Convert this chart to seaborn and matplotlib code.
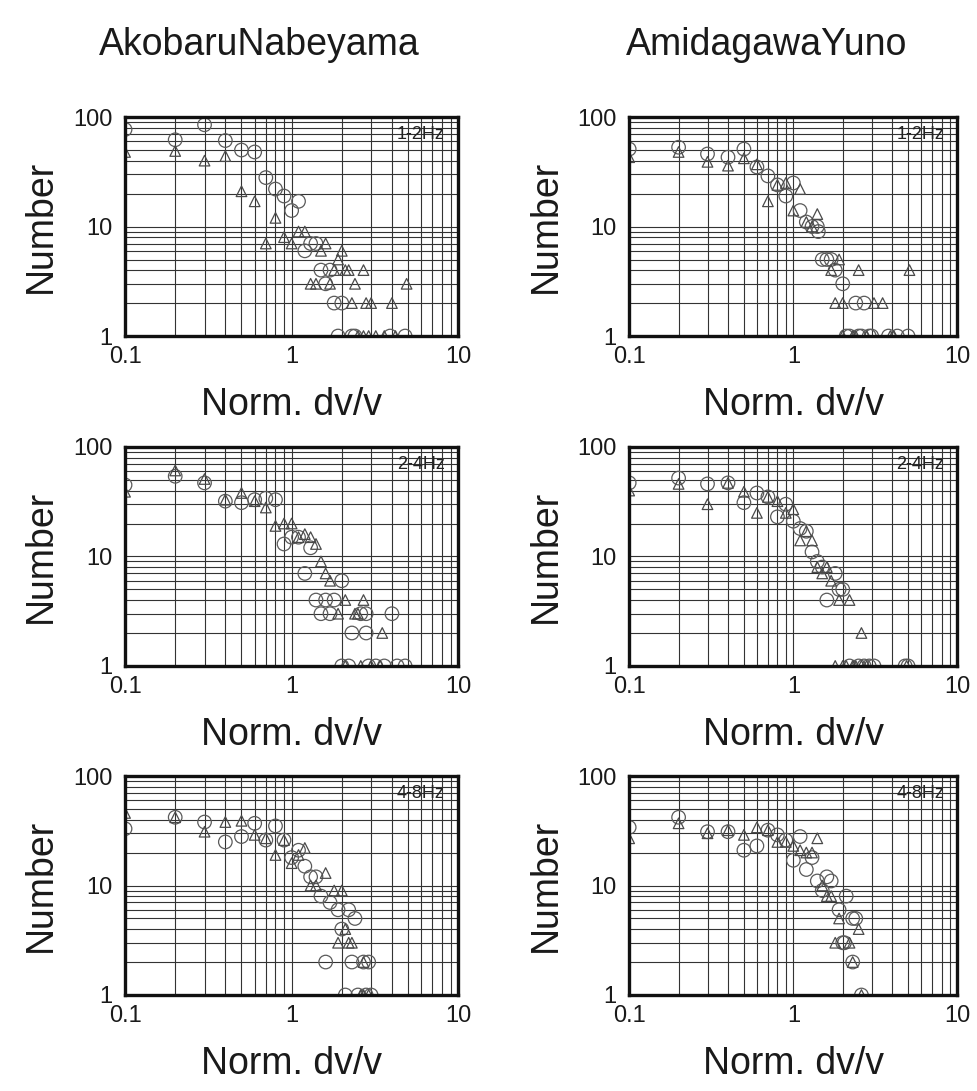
import seaborn as sns
import matplotlib.pyplot as plt

sns.set_style("white")
plt.rcParams['font.family'] = ['Liberation Sans', 'DejaVu Sans']

stations = ['AkobaruNabeyama', 'AmidagawaYuno']
bands = ['1-2Hz', '2-4Hz', '4-8Hz']
xticks = [0.1, 1, 10]
xticklabels = ['0.1', '1', '10']
yticks = [1, 10, 100]
yticklabels = ['1', '10', '100']

# AkobaruNabeyama 1-2Hz
an12_o_x = [0.1, 0.2, 0.3, 0.4, 0.5, 0.6, 0.7, 0.8, 0.9, 1.0, 1.1, 1.2, 1.3, 1.4, 1.5, 1.6, 1.7, 1.8, 2.0,
            1.9, 2.3, 2.4, 3.9, 4.8]
an12_o_y = [77, 62, 85, 61, 50, 48, 28, 22, 19, 14, 17, 6, 7, 7, 4, 3, 4, 2, 2,
            1, 1, 1, 1, 1]
an12_t_x = [0.1, 0.2, 0.3, 0.4, 0.5, 0.6, 0.7, 0.8, 0.9, 1.0, 1.1, 1.2, 1.3, 1.4, 1.5, 1.6, 1.7, 1.8, 1.9,
            2.0, 2.1, 2.2, 2.3, 2.4, 2.7, 2.8, 3.0, 4.0, 4.9, 2.5, 2.7, 2.9, 3.2, 3.6, 4.2]
an12_t_y = [48, 49, 40, 44, 21, 17, 7, 12, 8, 7, 9, 9, 3, 3, 6, 7, 3, 4, 5,
            6, 4, 4, 2, 3, 4, 2, 2, 2, 3, 1, 1, 1, 1, 1, 1]

# AmidagawaYuno 1-2Hz
ay12_o_x = [0.1, 0.2, 0.3, 0.4, 0.5, 0.6, 0.7, 0.8, 0.9, 1.0, 1.1, 1.2, 1.3, 1.4, 1.42, 1.5, 1.6, 1.7, 1.8,
            2.0, 2.4, 2.7, 2.1, 2.2, 2.5, 2.6, 2.9, 3.0, 3.8, 4.3, 5.0]
ay12_o_y = [51, 53, 46, 43, 51, 35, 29, 24, 19, 25, 14, 11, 10, 10, 9, 5, 5, 5, 4,
            3, 2, 2, 1, 1, 1, 1, 1, 1, 1, 1, 1]
ay12_t_x = [0.1, 0.2, 0.3, 0.4, 0.5, 0.6, 0.7, 0.8, 0.9, 1.0, 1.1, 1.2, 1.3, 1.4, 1.7, 1.9, 1.8, 2.0,
            2.5, 3.1, 3.5, 5.1, 2.0, 2.3, 2.4, 2.8, 3.9, 4.1]
ay12_t_y = [43, 48, 39, 36, 42, 37, 17, 24, 25, 14, 22, 11, 10, 13, 4, 5, 2, 2,
            4, 2, 2, 4, 1, 1, 1, 1, 1, 1]

# AkobaruNabeyama 2-4Hz
an24_o_x = [0.1, 0.2, 0.3, 0.4, 0.5, 0.6, 0.7, 0.8, 0.9, 1.0, 1.1, 1.2, 1.3, 1.4, 1.5, 1.6, 1.7, 1.8, 2.0,
            2.3, 2.6, 2.8, 2.8, 4.0, 2.0, 2.2, 2.9, 3.2, 3.6, 4.3, 4.8]
an24_o_y = [45, 54, 47, 32, 31, 33, 34, 33, 13, 15, 15, 7, 12, 4, 3, 4, 3, 4, 6,
            2, 3, 3, 2, 3, 1, 1, 1, 1, 1, 1, 1]
an24_t_x = [0.1, 0.2, 0.3, 0.4, 0.5, 0.6, 0.7, 0.8, 0.9, 1.0, 1.1, 1.2, 1.3, 1.4, 1.5, 1.6, 1.7, 1.9,
            2.1, 2.4, 2.5, 2.7, 3.5, 2.1, 2.6, 3.0, 3.4]
an24_t_y = [39, 61, 51, 33, 38, 32, 28, 19, 20, 20, 15, 16, 15, 13, 9, 7, 6, 3,
            4, 3, 3, 4, 2, 1, 1, 1, 1]

# AmidagawaYuno 2-4Hz
ay24_o_x = [0.1, 0.2, 0.3, 0.4, 0.5, 0.6, 0.7, 0.8, 0.9, 1.0, 1.1, 1.2, 1.3, 1.4, 1.5, 1.6, 1.8, 1.9, 2.0,
            2.2, 2.5, 2.7, 2.9, 3.1, 4.8, 5.0]
ay24_o_y = [47, 52, 46, 47, 31, 38, 35, 23, 30, 21, 18, 17, 11, 9, 8, 4, 7, 5, 5,
            1, 1, 1, 1, 1, 1, 1]
ay24_t_x = [0.1, 0.2, 0.3, 0.4, 0.5, 0.6, 0.7, 0.8, 0.9, 1.0, 1.1, 1.2, 1.3, 1.4, 1.5, 1.6, 1.7, 1.9,
            2.2, 2.6, 1.8, 2.0, 2.1, 2.3, 2.4, 2.6, 2.8, 4.9]
ay24_t_y = [40, 46, 30, 47, 39, 25, 35, 32, 25, 27, 14, 17, 14, 8, 7, 8, 6, 4,
            4, 2, 1, 1, 1, 1, 1, 1, 1, 1]

# AkobaruNabeyama 4-8Hz
an48_o_x = [0.1, 0.2, 0.3, 0.4, 0.5, 0.6, 0.7, 0.8, 0.9, 1.0, 1.1, 1.2, 1.3, 1.4, 1.5, 1.6, 1.7, 1.9, 2.0,
            2.2, 2.3, 2.4, 2.7, 2.9, 2.1, 2.5, 2.8, 3.0]
an48_o_y = [33, 42, 38, 25, 28, 37, 26, 35, 26, 18, 21, 15, 12, 12, 8, 2, 7, 6, 4,
            6, 2, 5, 2, 2, 1, 1, 1, 1]
an48_t_x = [0.1, 0.2, 0.3, 0.4, 0.5, 0.6, 0.7, 0.8, 0.9, 1.0, 1.1, 1.2, 1.3, 1.4, 1.6, 1.8, 2.0, 2.1,
            1.9, 2.2, 2.3, 2.7, 2.6, 2.7, 2.9]
an48_t_y = [46, 42, 31, 38, 39, 29, 27, 19, 26, 16, 19, 22, 10, 10, 13, 9, 9, 4,
            3, 3, 3, 2, 1, 1, 1]

# AmidagawaYuno 4-8Hz
ay48_o_x = [0.1, 0.2, 0.3, 0.4, 0.5, 0.6, 0.7, 0.8, 0.9, 1.0, 1.1, 1.2, 1.3, 1.4, 1.5, 1.6, 1.7, 1.9, 2.0,
            2.05, 2.1, 2.3, 2.4, 2.3, 2.6]
ay48_o_y = [34, 42, 31, 31, 21, 23, 32, 29, 26, 17, 28, 14, 18, 11, 9, 12, 11, 6, 3,
            3, 8, 5, 5, 2, 1]
ay48_t_x = [0.1, 0.2, 0.3, 0.4, 0.5, 0.6, 0.7, 0.8, 0.9, 1.0, 1.1, 1.2, 1.3, 1.4, 1.5, 1.6, 1.7, 1.8, 1.9,
            2.2, 2.3, 2.5, 2.6]
ay48_t_y = [27, 37, 30, 32, 29, 34, 32, 25, 25, 23, 21, 20, 20, 27, 10, 8, 8, 3, 5,
            3, 2, 4, 1]

panels = {
    (0, 0): (an12_o_x, an12_o_y, an12_t_x, an12_t_y),
    (0, 1): (ay12_o_x, ay12_o_y, ay12_t_x, ay12_t_y),
    (1, 0): (an24_o_x, an24_o_y, an24_t_x, an24_t_y),
    (1, 1): (ay24_o_x, ay24_o_y, ay24_t_x, ay24_t_y),
    (2, 0): (an48_o_x, an48_o_y, an48_t_x, an48_t_y),
    (2, 1): (ay48_o_x, ay48_o_y, ay48_t_x, ay48_t_y),
}

fig = plt.figure(figsize=(9.77, 10.91), dpi=100)

lefts = [0.128, 0.644]
widths = [0.341, 0.336]
bottoms = [0.692, 0.3896, 0.088]
height = 0.2007

for (r, c), (ox, oy, tx, ty) in panels.items():
    ax = fig.add_axes([lefts[c], bottoms[r], widths[c], height])
    ax.set_xscale('log')
    ax.set_yscale('log')
    sns.scatterplot(x=ox, y=oy, marker='o', s=95, facecolors='none',
                    edgecolor='#5a5a5a', linewidth=0.9, ax=ax, zorder=3)
    sns.scatterplot(x=tx, y=ty, marker='^', s=58, facecolors='none',
                    edgecolor='#4a4a4a', linewidth=0.9, ax=ax, zorder=3)
    ax.set_xlim(0.1, 10)
    ax.set_ylim(1, 100)
    ax.set_xticks(xticks)
    ax.set_xticklabels(xticklabels)
    ax.set_yticks(yticks)
    ax.set_yticklabels(yticklabels)
    ax.xaxis.set_minor_formatter(plt.NullFormatter())
    ax.yaxis.set_minor_formatter(plt.NullFormatter())
    ax.tick_params(which='both', length=0, labelsize=17, colors='#1a1a1a')
    ax.tick_params(axis='x', pad=7)
    ax.tick_params(axis='y', pad=9)
    ax.grid(True, which='both', color='#333333', linewidth=0.8)
    ax.set_axisbelow(True)
    for sp in ax.spines.values():
        sp.set_linewidth(2.4)
        sp.set_color('#111111')
        sp.set_zorder(4)
    ax.set_xlabel('Norm. dv/v', fontsize=27, labelpad=14, color='#1a1a1a')
    ax.set_ylabel('Number', fontsize=27, labelpad=10, color='#1a1a1a')
    ax.text(0.96, 0.92, bands[r], transform=ax.transAxes, ha='right', va='center',
            fontsize=13, color='#222222')

fig.text(259 / 977, 1 - 45 / 1091, stations[0], ha='center', va='center',
         fontsize=27, color='#1a1a1a')
fig.text(767 / 977, 1 - 45 / 1091, stations[1], ha='center', va='center',
         fontsize=27, color='#1a1a1a')

plt.savefig('out.png', dpi=100)
